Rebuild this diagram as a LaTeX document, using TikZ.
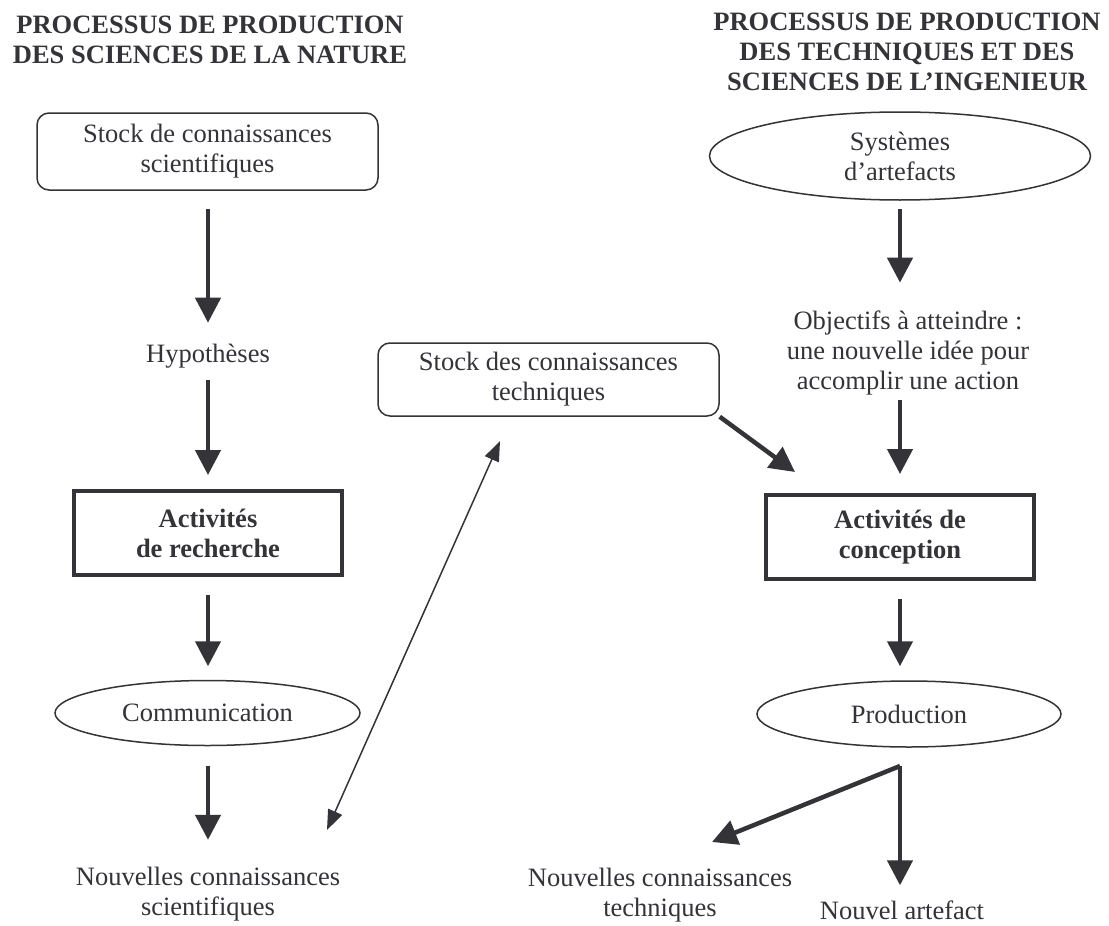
\documentclass[tikz,border=0pt]{standalone}
\usepackage{fontspec}
\setmainfont{Liberation Serif}
\usetikzlibrary{arrows.meta,shapes.geometric}
\definecolor{ink}{RGB}{51,51,56}
\begin{document}
\begin{tikzpicture}[x=1pt,y=-1pt,
  every node/.style={text=ink, font=\fontsize{26.5}{30}\selectfont, inner sep=0pt, align=center},
  title/.style={font=\fontsize{26.5}{30}\selectfont\bfseries},
  rbox/.style={draw=ink, line width=1.5pt, rounded corners=12pt, minimum width=341pt, minimum height=75pt},
  bbox/.style={draw=ink, line width=4pt, minimum width=268pt, minimum height=84pt, font=\fontsize{26.5}{30}\selectfont\bfseries},
  ell/.style={draw=ink, line width=1.5pt, ellipse, minimum width=305pt, minimum height=65pt},
  arr/.style={draw=ink, line width=4.5pt, -{Triangle[length=25pt,width=25pt]}},
  thinarr/.style={draw=ink, line width=1.5pt, {Triangle[length=20pt,width=15pt]}-{Triangle[length=20pt,width=15pt]}},
]
\useasboundingbox (0,0) rectangle (1109,926);

% titles
\node[title] (tl) at (210,40) {PROCESSUS DE PRODUCTION\\DES SCIENCES DE LA NATURE};
\node[title] (tr) at (907,52) {PROCESSUS DE PRODUCTION\\DES TECHNIQUES ET DES\\SCIENCES DE L’INGENIEUR};

% left column
\node[rbox, minimum height=77pt] (stocks) at (207.5,151.5) {Stock de connaissances\\scientifiques};
\node (hyp) at (208,356) {Hypothèses};
\node[bbox] (rech) at (208,533) {Activités\\de recherche};
\node[ell] (comm) at (207.5,713) {Communication};
\node (nsci) at (208,894) {Nouvelles connaissances\\scientifiques};

% middle
\node[rbox, minimum height=73pt] (stockt) at (548.5,379.5) {Stock des connaissances\\techniques};

% right column
\node[ell, minimum width=381pt, minimum height=88pt] (sys) at (900,156) {Systèmes\\d’artefacts};
\node (obj) at (908,353) {Objectifs à atteindre :\\une nouvelle idée pour\\accomplir une action};
\node[bbox] (conc) at (900,537) {Activités de\\conception};
\node[ell, minimum width=304pt, minimum height=66pt] (prod) at (909,714) {Production};
\node (ntech) at (660,895) {Nouvelles connaissances\\techniques};
\node (art) at (902,910) {Nouvel artefact};

% coordinates for free ends
\coordinate (ta) at (327,830);
\coordinate (tb) at (500,441);
\coordinate (ct) at (795,472);
\coordinate (br) at (900,766);
\coordinate (tt) at (712,842);

% left arrows
\draw[arr, shorten <=18pt, shorten >=21pt] (stocks.south -| hyp.north) -- (hyp.north);
\draw[arr, shorten <=12pt, shorten >=14pt] (hyp.south) -- (rech.north);
\draw[arr, shorten <=18pt, shorten >=13.5pt] (rech.south) -- (rech.south |- comm.north);
\draw[arr, shorten <=19.5pt, shorten >=27pt] (comm.south -| nsci.north) -- (nsci.north);

% thin double arrow
\draw[thinarr] (ta) -- (tb);

% stock technique to conception
\draw[arr] (stockt.south east) -- (ct);

% right arrows
\draw[arr, shorten <=8pt, shorten >=28pt] (sys.south) -- (sys.south |- obj.north);
\draw[arr, shorten <=5pt, shorten >=19pt] (conc.north |- obj.south) -- (conc.north);
\draw[arr, shorten <=18pt, shorten >=14pt] (conc.south) -- (conc.south |- prod.north);
\draw[arr, shorten >=15pt] (br) -- (br |- art.north);
\draw[arr] (br) -- (tt);
\end{tikzpicture}
\end{document}
